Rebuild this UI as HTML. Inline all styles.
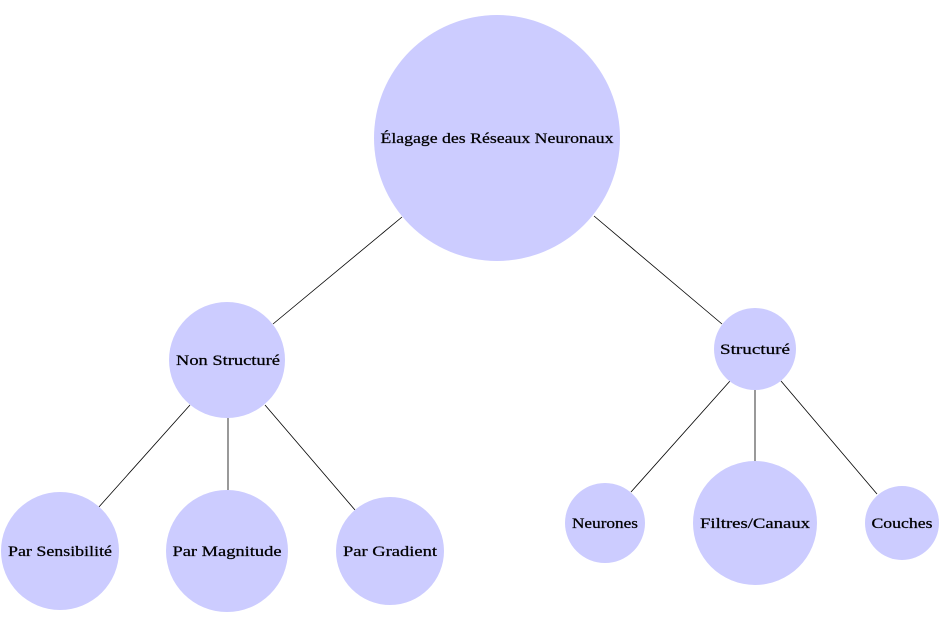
<!DOCTYPE html>
<html><head><meta charset="utf-8"><style>
html,body{margin:0;padding:0;background:#fff;}
svg{display:block;}
text{font-family:"Liberation Serif",serif;font-size:15px;fill:#000;stroke:#000;stroke-width:0.25;}
</style></head><body>
<svg width="952" height="624" viewBox="0 0 952 624" xmlns="http://www.w3.org/2000/svg">
<g stroke="#000" stroke-width="0.8">
<line x1="402" y1="217" x2="273" y2="324"/>
<line x1="594" y1="216" x2="722" y2="324"/>
<line x1="190" y1="405" x2="98" y2="508"/>
<line x1="228" y1="418" x2="228" y2="490"/>
<line x1="265" y1="405" x2="355" y2="510"/>
<line x1="730" y1="381" x2="631" y2="492"/>
<line x1="755" y1="390" x2="755" y2="461"/>
<line x1="781" y1="381" x2="877" y2="494"/>
</g>
<g fill="#ccccff">
<circle cx="497" cy="138" r="123"/>
<circle cx="227" cy="360" r="58"/>
<circle cx="755" cy="349" r="41"/>
<circle cx="60" cy="551" r="59"/>
<circle cx="227" cy="551" r="61"/>
<circle cx="390" cy="551" r="54"/>
<circle cx="605" cy="523" r="40"/>
<circle cx="755" cy="523" r="62"/>
<circle cx="902" cy="523" r="37"/>
</g>
<g text-anchor="middle" lengthAdjust="spacingAndGlyphs">
<text x="497" y="143" textLength="233" lengthAdjust="spacingAndGlyphs">Élagage des Réseaux Neuronaux</text>
<text x="228" y="365" textLength="104" lengthAdjust="spacingAndGlyphs">Non Structuré</text>
<text x="755" y="354" textLength="70" lengthAdjust="spacingAndGlyphs">Structuré</text>
<text x="60" y="556" textLength="104" lengthAdjust="spacingAndGlyphs">Par Sensibilité</text>
<text x="227" y="556" textLength="109" lengthAdjust="spacingAndGlyphs">Par Magnitude</text>
<text x="390" y="556" textLength="94" lengthAdjust="spacingAndGlyphs">Par Gradient</text>
<text x="605" y="528" textLength="66" lengthAdjust="spacingAndGlyphs">Neurones</text>
<text x="755" y="528" textLength="110" lengthAdjust="spacingAndGlyphs">Filtres/Canaux</text>
<text x="902" y="528" textLength="61" lengthAdjust="spacingAndGlyphs">Couches</text>
</g>
</svg>
</body></html>
